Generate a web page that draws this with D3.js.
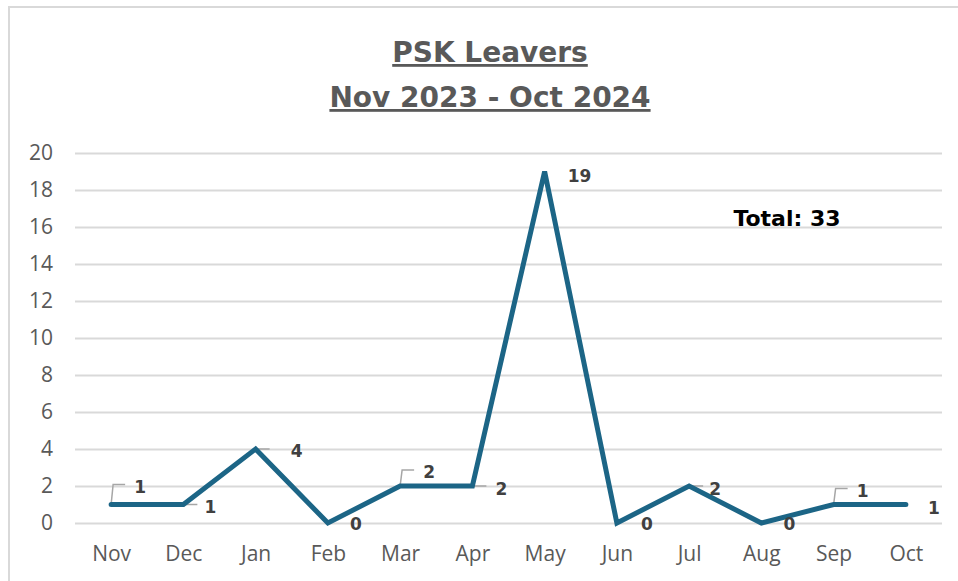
<!DOCTYPE html>
<html lang="en">
<head>
    <meta charset="UTF-8">
    <title>PSK Leavers</title>
    <script src="https://d3js.org/d3.v7.min.js"></script>
    <style>
        body {
            margin: 0;
            background: #fff;
        }
        .title {
            font-family: "DejaVu Sans", sans-serif;
            font-weight: bold;
            font-size: 28px;
            fill: #595959;
            text-anchor: middle;
            text-decoration: underline;
        }
        .tick text {
            font-family: "Open Sans", sans-serif;
            font-size: 21px;
            fill: #595959;
        }
        .data-label {
            font-family: "DejaVu Sans", sans-serif;
            font-weight: bold;
            font-size: 17px;
            fill: #404040;
            text-anchor: middle;
        }
        .total {
            font-family: "DejaVu Sans", sans-serif;
            font-weight: bold;
            font-size: 22px;
            fill: #000;
            text-anchor: middle;
        }
    </style>
</head>
<body>
    <script>
        // data
        const months = ["Nov", "Dec", "Jan", "Feb", "Mar", "Apr", "May", "Jun", "Jul", "Aug", "Sep", "Oct"];
        const leavers = [1, 1, 4, 0, 2, 2, 19, 0, 2, 0, 1, 1];
        const yTicks = [0, 2, 4, 6, 8, 10, 12, 14, 16, 18, 20];
        const titleLines = ["PSK Leavers", "Nov 2023 - Oct 2024"];
        const totalText = "Total: " + d3.sum(leavers);

        // where each data label sits relative to its point, and what kind of leader line it has
        const labelPlace = [
            {dx: 29, dy: -12, leader: "up"},
            {dx: 27, dy: 8, leader: "h"},
            {dx: 41, dy: 8, leader: "h"},
            {dx: 28, dy: 7, leader: null},
            {dx: 29, dy: -8, leader: "up"},
            {dx: 29, dy: 9, leader: "h"},
            {dx: 35, dy: 10, leader: null},
            {dx: 30, dy: 7, leader: null},
            {dx: 26, dy: 9, leader: "h"},
            {dx: 28, dy: 7, leader: null},
            {dx: 29, dy: -8, leader: "up"},
            {dx: 28, dy: 9, leader: null}
        ];

        const width = 958;
        const height = 581;

        const svg = d3.select("body").append("svg")
            .attr("width", width)
            .attr("height", height);

        // chart frame (only top/left edges are in view)
        svg.append("rect")
            .attr("x", 9)
            .attr("y", 7)
            .attr("width", 1000)
            .attr("height", 1000)
            .attr("fill", "none")
            .attr("stroke", "#d9d9d9")
            .attr("stroke-width", 2);

        svg.selectAll("text.title")
            .data(titleLines)
            .enter().append("text")
            .attr("class", "title")
            .attr("x", 490)
            .attr("y", (d, i) => 62 + i * 45)
            .text(d => d);

        const x = d3.scalePoint()
            .domain(months)
            .range([75, 942])
            .padding(0.5);

        const y = d3.scaleLinear()
            .domain([0, 20])
            .range([523, 153]);

        // gridlines + y labels
        const yAxis = svg.append("g")
            .attr("transform", "translate(75,0)")
            .call(d3.axisLeft(y).tickValues(yTicks).tickSize(-(942 - 75)).tickPadding(22));
        yAxis.select(".domain").remove();
        yAxis.selectAll(".tick line")
            .attr("stroke", "#d9d9d9")
            .attr("stroke-width", 2);

        const xAxis = svg.append("g")
            .attr("transform", "translate(0,523)")
            .call(d3.axisBottom(x).tickSize(0).tickPadding(23));
        xAxis.select(".domain").remove();

        // leader lines
        const leaders = svg.append("g")
            .attr("fill", "none")
            .attr("stroke", "#a6a6a6")
            .attr("stroke-width", 1.5);

        leavers.forEach((v, i) => {
            const p = labelPlace[i];
            const px = x(months[i]);
            const py = y(v);
            if (p.leader === "up") {
                const ly = py + p.dy - 8;
                leaders.append("path")
                    .attr("d", d3.line()([[px, py], [px + 2, ly], [px + 14, ly]]));
            } else if (p.leader === "h") {
                leaders.append("path")
                    .attr("d", d3.line()([[px, py], [px + 14, py]]));
            }
        });

        const line = d3.line()
            .x((d, i) => x(months[i]))
            .y(d => y(d));

        svg.append("path")
            .datum(leavers)
            .attr("d", line)
            .attr("fill", "none")
            .attr("stroke", "#1c6586")
            .attr("stroke-width", 5)
            .attr("stroke-linejoin", "miter")
            .attr("stroke-linecap", "round");

        svg.selectAll("text.data-label")
            .data(leavers)
            .enter().append("text")
            .attr("class", "data-label")
            .attr("x", (d, i) => x(months[i]) + labelPlace[i].dx)
            .attr("y", (d, i) => y(d) + labelPlace[i].dy)
            .text(d => d);

        svg.append("text")
            .attr("class", "total")
            .attr("x", 787)
            .attr("y", 226)
            .text(totalText);
    </script>
</body>
</html>
